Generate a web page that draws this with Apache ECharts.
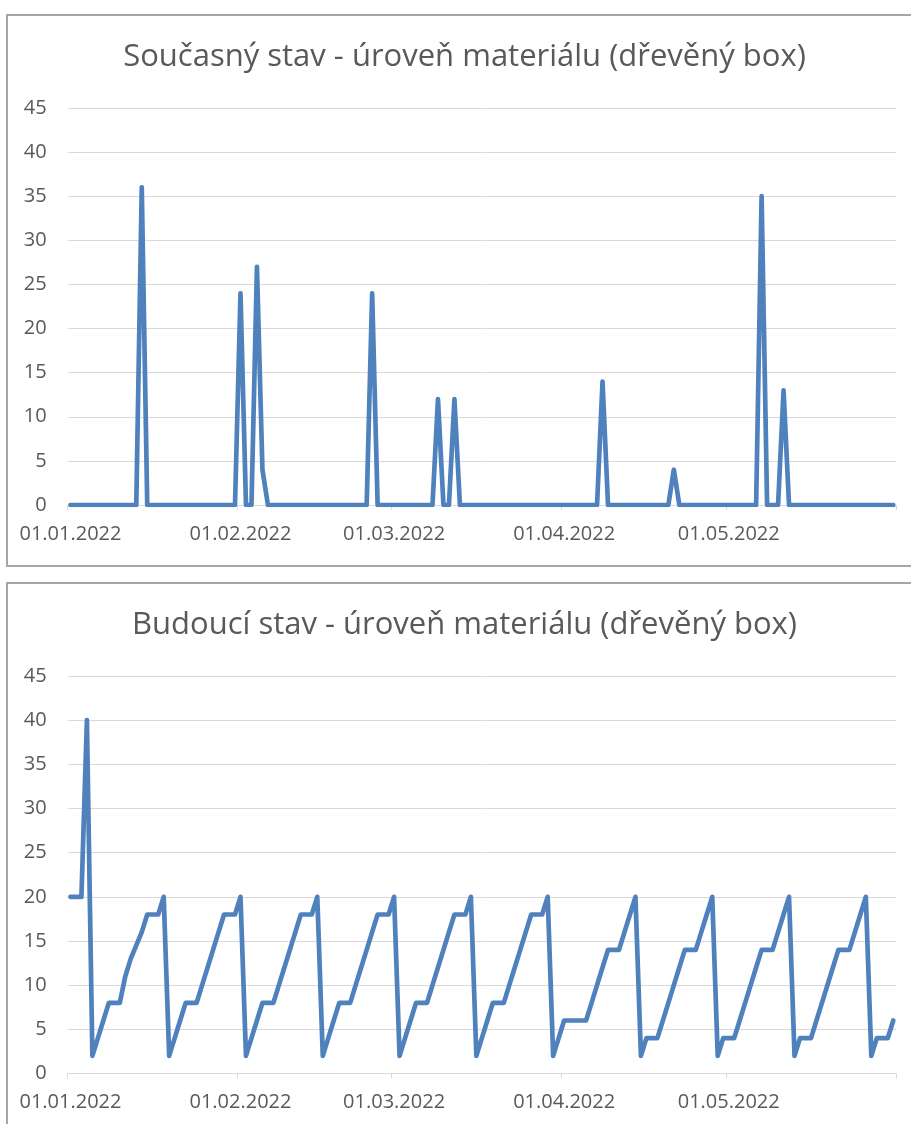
<!DOCTYPE html>
<html>
<head>
<meta charset="utf-8">
<script src="https://cdn.jsdelivr.net/npm/echarts@6/dist/echarts.min.js"></script>
<style>
  html, body { margin: 0; padding: 0; background: #ffffff; overflow: hidden; }
  #chart { width: 911px; height: 1124px; }
</style>
</head>
<body>
<div id="chart"></div>
<script>
// ---- data ----
const titleTop = 'Současný stav - úroveň materiálu (dřevěný box)';
const titleBottom = 'Budoucí stav - úroveň materiálu (dřevěný box)';
const startDate = [2022, 1, 1];   // first day of the series (Y, M, D)
const dayCount = 151;             // 01.01.2022 .. 31.05.2022
const yTicks = [0, 5, 10, 15, 20, 25, 30, 35, 40, 45];

// Current state (daily values, 01.01. - 31.05.2022)
const currentLevel = [
  0, 0, 0, 0, 0, 0, 0, 0, 0, 0,      // 1-10 Jan
  0, 0, 0, 36, 0, 0, 0, 0, 0, 0,     // 11-20 Jan
  0, 0, 0, 0, 0, 0, 0, 0, 0, 0,      // 21-30 Jan
  0, 24, 0, 0, 27, 4, 0, 0, 0, 0,    // 31 Jan - 9 Feb
  0, 0, 0, 0, 0, 0, 0, 0, 0, 0,      // 10-19 Feb
  0, 0, 0, 0, 0, 24, 0, 0, 0, 0,     // 20 Feb - 1 Mar
  0, 0, 0, 0, 0, 0, 0, 12, 0, 0,     // 2-11 Mar
  12, 0, 0, 0, 0, 0, 0, 0, 0, 0,     // 12-21 Mar
  0, 0, 0, 0, 0, 0, 0, 0, 0, 0,      // 22-31 Mar
  0, 0, 0, 0, 0, 0, 0, 14, 0, 0,     // 1-10 Apr
  0, 0, 0, 0, 0, 0, 0, 0, 0, 0,      // 11-20 Apr
  4, 0, 0, 0, 0, 0, 0, 0, 0, 0,      // 21-30 Apr
  0, 0, 0, 0, 0, 0, 35, 0, 0, 0,     // 1-10 May
  13, 0, 0, 0, 0, 0, 0, 0, 0, 0,     // 11-20 May
  0, 0, 0, 0, 0, 0, 0, 0, 0, 0,      // 21-30 May
  0                                  // 31 May
];

// Future state (daily values, 01.01. - 31.05.2022)
const futureLevel = [
  20, 20, 20, 40,
  2, 4, 6, 8, 8, 8, 11, 13, 14.5, 16, 18, 18, 18, 20,
  2, 4, 6, 8, 8, 8, 10, 12, 14, 16, 18, 18, 18, 20,
  2, 4, 6, 8, 8, 8, 10, 12, 14, 16, 18, 18, 18, 20,
  2, 4, 6, 8, 8, 8, 10, 12, 14, 16, 18, 18, 18, 20,
  2, 4, 6, 8, 8, 8, 10, 12, 14, 16, 18, 18, 18, 20,
  2, 4, 6, 8, 8, 8, 10, 12, 14, 16, 18, 18, 18, 20,
  2, 4, 6, 6, 6, 6, 6, 8, 10, 12, 14, 14, 14, 16, 18, 20,
  2, 4, 4, 4, 6, 8, 10, 12, 14, 14, 14, 16, 18, 20,
  2, 4, 4, 4, 6, 8, 10, 12, 14, 14, 14, 16, 18, 20,
  2, 4, 4, 4, 6, 8, 10, 12, 14, 14, 14, 16, 18, 20,
  2, 4, 4, 4, 6
];

// ---- categories: one per calendar day ----
function pad(n) { return (n < 10 ? '0' : '') + n; }
const dates = [];
for (let i = 0; i < dayCount; i++) {
  const d = new Date(Date.UTC(startDate[0], startDate[1] - 1, startDate[2] + i));
  dates.push(pad(d.getUTCDate()) + '.' + pad(d.getUTCMonth() + 1) + '.' + d.getUTCFullYear());
}

const FONT = 'Open Sans';
const TEXT = '#595959';
const GRID = '#d9d9d9';
const LINE = '#4f81bd';

const isMonthStart = function (idx, val) { return val.slice(0, 3) === '01.'; };

function xAxisFor(gridIndex) {
  return {
    type: 'category',
    gridIndex: gridIndex,
    data: dates,
    boundaryGap: true,
    axisLine: { show: true, lineStyle: { color: GRID, width: 1 } },
    axisTick: { show: true, interval: isMonthStart, length: 5, lineStyle: { color: GRID } },
    axisLabel: { interval: isMonthStart, color: TEXT, fontFamily: FONT, fontSize: 20, margin: 19 },
    splitLine: { show: false }
  };
}
function yAxisFor(gridIndex) {
  return {
    type: 'value',
    gridIndex: gridIndex,
    min: yTicks[0],
    max: yTicks[yTicks.length - 1],
    interval: yTicks[1] - yTicks[0],
    axisLine: { show: false },
    axisTick: { show: false },
    axisLabel: { color: TEXT, fontFamily: FONT, fontSize: 20, margin: 21 },
    splitLine: { show: true, lineStyle: { color: GRID, width: 1 } }
  };
}
function seriesFor(idx, values) {
  return {
    type: 'line',
    xAxisIndex: idx,
    yAxisIndex: idx,
    data: values,
    showSymbol: false,
    symbol: 'none',
    lineStyle: { color: LINE, width: 4.7, cap: 'round', join: 'round' },
    itemStyle: { color: LINE },
    animation: false,
    z: 3
  };
}

const chart = echarts.init(document.getElementById('chart'), null, { renderer: 'canvas' });
chart.setOption({
  backgroundColor: '#ffffff',
  animation: false,
  title: [
    { text: titleTop, left: 464.5, top: 57, textAlign: 'center', textVerticalAlign: 'middle', padding: 0,
      textStyle: { color: TEXT, fontFamily: FONT, fontSize: 31, fontWeight: 'normal' } },
    { text: titleBottom, left: 464.5, top: 625, textAlign: 'center', textVerticalAlign: 'middle', padding: 0,
      textStyle: { color: TEXT, fontFamily: FONT, fontSize: 31, fontWeight: 'normal' } }
  ],
  graphic: [
    { type: 'rect', z: -10, shape: { x: 7, y: 15, width: 940, height: 551 },
      style: { fill: null, stroke: '#a6a6a6', lineWidth: 2 } },
    { type: 'rect', z: -10, shape: { x: 7, y: 583, width: 940, height: 600 },
      style: { fill: null, stroke: '#a6a6a6', lineWidth: 2 } }
  ],
  grid: [
    { left: 67.7, right: 15, top: 108, height: 397 },
    { left: 67.7, right: 15, top: 676, height: 397.5 }
  ],
  xAxis: [xAxisFor(0), xAxisFor(1)],
  yAxis: [yAxisFor(0), yAxisFor(1)],
  series: [seriesFor(0, currentLevel), seriesFor(1, futureLevel)]
});
</script>
</body>
</html>
